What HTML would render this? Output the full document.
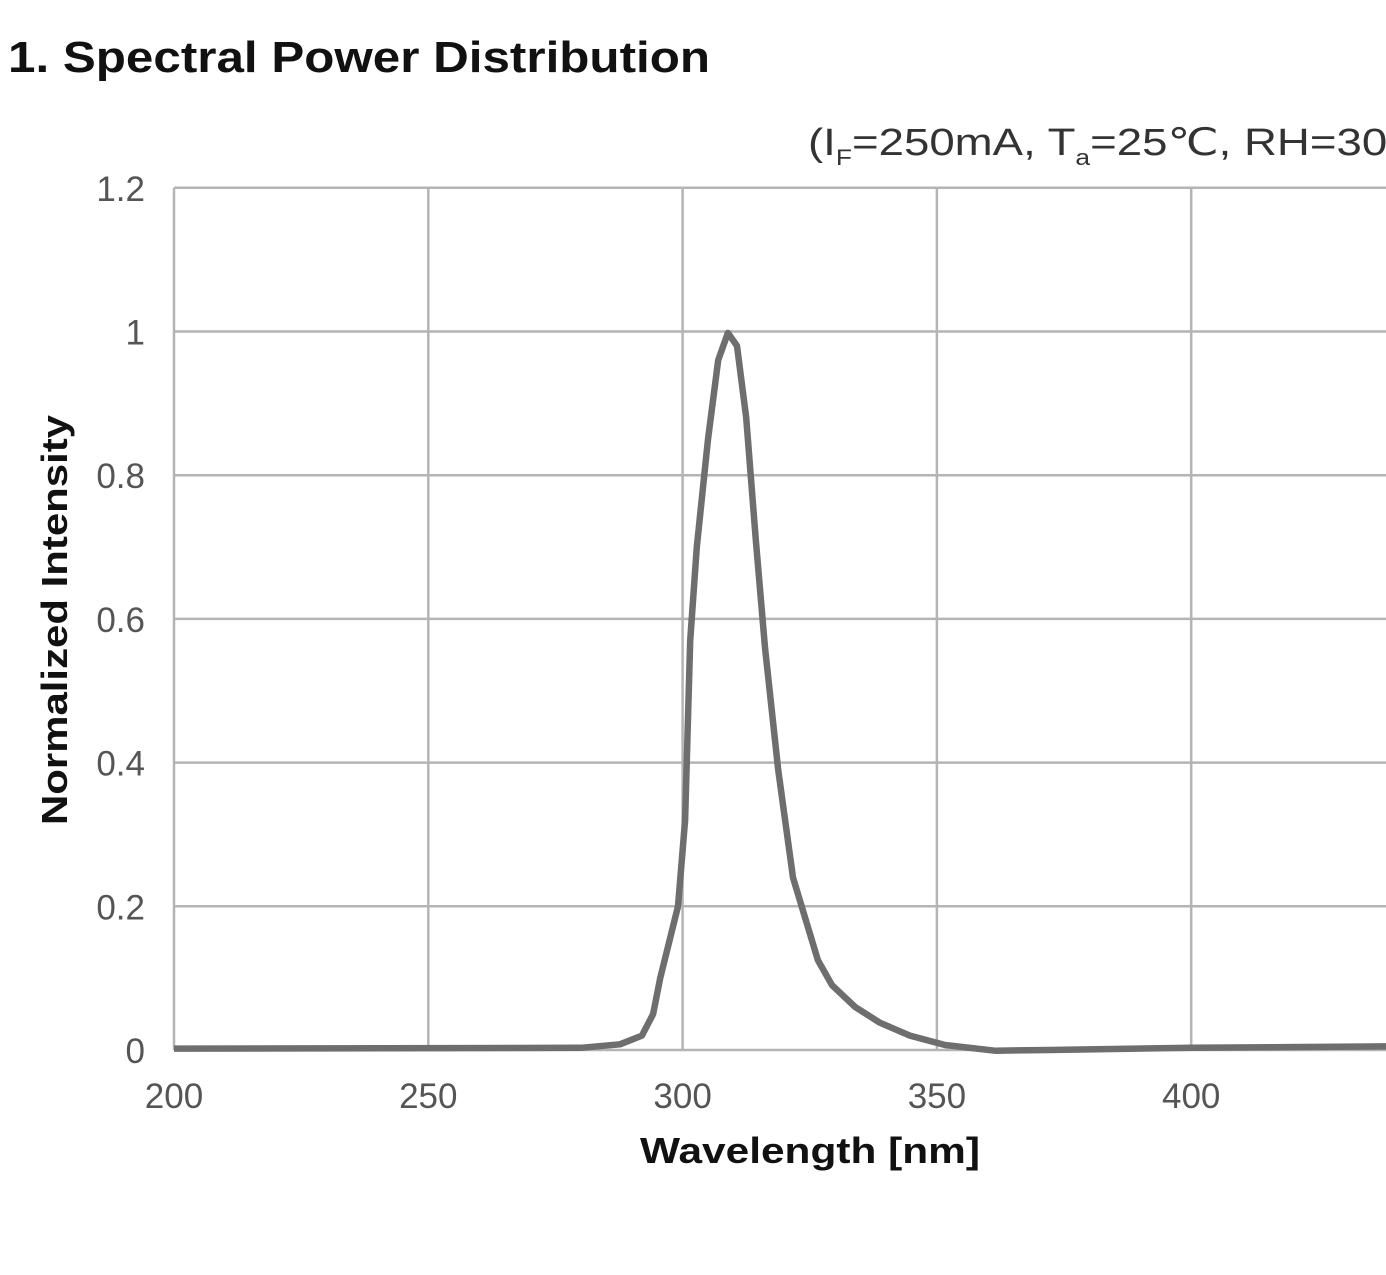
<!DOCTYPE html>
<html><head><meta charset="utf-8"><style>
body{margin:0;background:#fff;width:1386px;height:1270px;overflow:hidden;font-family:"Liberation Sans","DejaVu Sans",sans-serif}
</style></head><body>
<svg width="1386" height="1270" xmlns="http://www.w3.org/2000/svg">
<text x="8" y="72" font-size="44" font-weight="bold" fill="#111" textLength="702" lengthAdjust="spacingAndGlyphs">1. Spectral Power Distribution</text>
<text x="808" y="155" font-size="38" fill="#333" transform="translate(808,0) scale(1.2,1) translate(-808,0)">(I<tspan font-size="22" dy="10">F</tspan><tspan dy="-10">=250mA, T</tspan><tspan font-size="22" dy="10">a</tspan><tspan dy="-10">=25℃, RH=30%)</tspan></text>
<g id="grid"></g>
<g id="yticks"></g>
<g id="xticks"></g>
<path id="curve" fill="none" stroke="#6e6e6e" stroke-width="6.5" stroke-linejoin="round"/>
<text x="640" y="1163" font-size="36" font-weight="bold" fill="#111" textLength="340" lengthAdjust="spacingAndGlyphs">Wavelength [nm]</text>
<text transform="translate(67,825) rotate(-90)" font-size="36" font-weight="bold" fill="#111" textLength="410" lengthAdjust="spacingAndGlyphs">Normalized Intensity</text>
</svg>
<script>
const xTicks=[200,250,300,350,400,450];
const yTicks=[0,0.2,0.4,0.6,0.8,1,1.2];
const yTickLabels=["0","0.2","0.4","0.6","0.8","1","1.2"];
const wavelengths=[200,280,287.7,292,294.2,295.6,299.1,300.5,301.5,302.8,305,307,308.9,310.7,312.5,314.4,316.2,318.8,321.7,326.6,329.4,333.9,338.8,344.7,351.6,361.4,372.2,400,438.3,450];
const intensity=[0.002,0.003,0.008,0.02,0.05,0.10,0.20,0.32,0.57,0.70,0.85,0.96,0.998,0.98,0.88,0.71,0.56,0.39,0.24,0.125,0.09,0.06,0.038,0.02,0.007,-0.001,0.0,0.003,0.005,0.005];
const X=v=>174+(v-200)*254.3/50;
const Y=v=>1050-v*718.5;
const NS="http://www.w3.org/2000/svg";
const g=document.getElementById('grid'),yt=document.getElementById('yticks'),xt=document.getElementById('xticks');
function mk(tag,attrs,parent){const e=document.createElementNS(NS,tag);for(const k in attrs)e.setAttribute(k,attrs[k]);parent.appendChild(e);return e;}
yTicks.forEach((v,i)=>{
 const l=mk('line',{x1:174,x2:1386,y1:Y(v),y2:Y(v),stroke:'#b4b4b4','stroke-width':2.5},g);
 
 
 const t=mk('text',{x:145,y:Y(v)+13,'font-size':35,'text-anchor':'end',fill:'#555'},yt);
 t.textContent=yTickLabels[i];
 
 
});
xTicks.forEach(v=>{
 const l=mk('line',{x1:X(v),x2:X(v),y1:188,y2:1050,stroke:'#b4b4b4','stroke-width':2.5},g);
 
 
 const t=mk('text',{x:X(v),y:1108,'font-size':35,'text-anchor':'middle',fill:'#555'},xt);
 t.textContent=v;
 
 
});
document.getElementById('curve').setAttribute('d',wavelengths.map((w,i)=>(i?'L':'M')+X(w).toFixed(1)+','+Y(intensity[i]).toFixed(1)).join(''));
</script>
</body></html>
